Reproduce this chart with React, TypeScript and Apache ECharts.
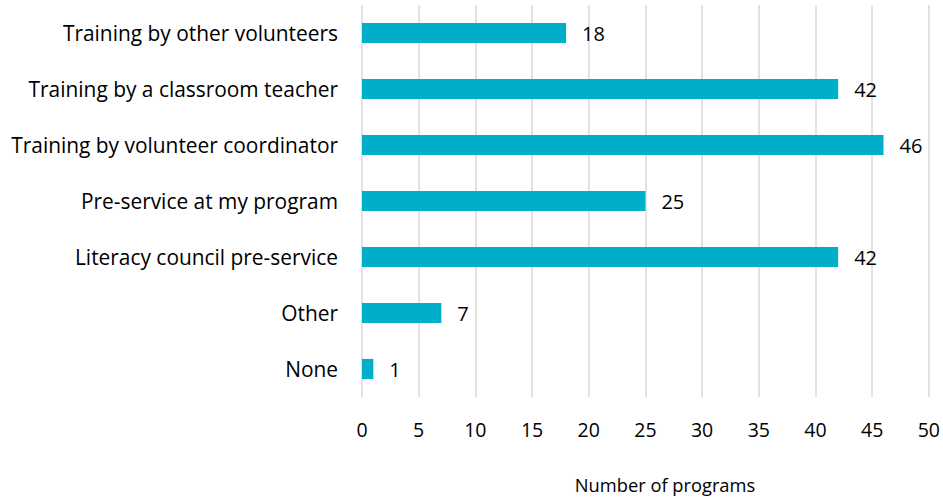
import React, { useEffect, useRef } from "react";
import * as echarts from "echarts";

const categories = [
  "Training by other volunteers",
  "Training by a classroom teacher",
  "Training by volunteer coordinator",
  "Pre-service at my program",
  "Literacy council pre-service",
  "Other",
  "None",
];
const values = [18, 42, 46, 25, 42, 7, 1];
const axisTitle = "Number of programs";

const FONT = "Open Sans";

export default function App() {
  const ref = useRef<HTMLDivElement>(null);
  useEffect(() => {
    const chart = echarts.init(ref.current!, null, { renderer: "svg" });
    chart.setOption({
      animation: false,
      backgroundColor: "#ffffff",
      textStyle: { fontFamily: FONT },
      grid: { left: 362, right: 13, top: 5, bottom: 101, containLabel: false },
      xAxis: {
        type: "value",
        min: 0,
        max: 50,
        interval: 5,
        axisLine: { show: false },
        axisTick: { show: false },
        splitLine: { show: true, lineStyle: { color: "#d9d9d9", width: 1.5 } },
        axisLabel: { color: "#000", fontSize: 19.5, margin: 22, fontFamily: FONT },
      },
      yAxis: {
        type: "category",
        data: categories,
        inverse: true,
        axisLine: { show: false },
        axisTick: { show: false },
        axisLabel: { color: "#000", fontSize: 20.9, margin: 24, fontFamily: FONT },
      },
      series: [
        {
          type: "bar",
          data: values,
          barCategoryGap: "64%",
          itemStyle: { color: "#00AEC9" },
          label: {
            show: true,
            position: "right",
            distance: 16,
            color: "#000",
            fontSize: 20,
            fontFamily: FONT,
          },
        },
      ],
      graphic: [
        {
          type: "text",
          x: 665,
          y: 484,
          style: {
            text: axisTitle,
            fontSize: 18.3,
            fontFamily: FONT,
            fill: "#000",
            align: "center",
            verticalAlign: "middle",
          },
        },
      ],
    });
    return () => chart.dispose();
  }, []);
  return (
    <div
      ref={ref}
      style={{ position: "fixed", left: 0, top: 0, width: 943, height: 498 }}
    />
  );
}
